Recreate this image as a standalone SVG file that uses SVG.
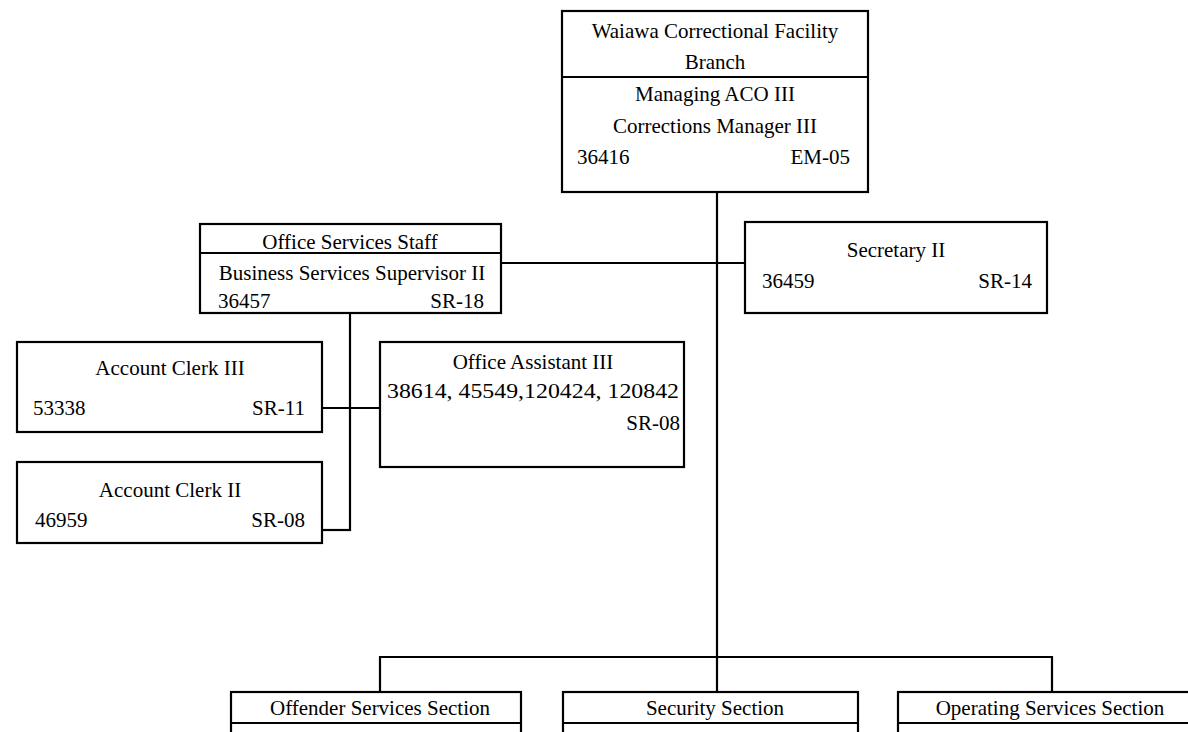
<svg xmlns="http://www.w3.org/2000/svg" width="1188" height="732" viewBox="0 0 1188 732">
<style>
.box{fill:#fff;stroke:#000;stroke-width:2.2}
.div{stroke:#000;stroke-width:2.2}
.ln{stroke:#000;stroke-width:2.2;fill:none}
text{font-family:"Liberation Serif","Times New Roman",serif;font-size:21px;fill:#000}
.c{text-anchor:middle}
.e{text-anchor:end}
</style>
<rect width="1188" height="732" fill="#fff"/>
<g id="connectors">
<line class="ln" x1="717" y1="192" x2="717" y2="692"/>
<line class="ln" x1="501" y1="263" x2="745" y2="263"/>
<line class="ln" x1="350" y1="313" x2="350" y2="531"/>
<line class="ln" x1="322" y1="408" x2="380" y2="408"/>
<line class="ln" x1="322" y1="530" x2="351" y2="530"/>
<polyline class="ln" points="380,692 380,657 1052,657 1052,692"/>
</g>
<g id="n_top">
<rect class="box" x="562" y="11" width="306" height="181"/>
<line class="div" x1="562" y1="77" x2="868" y2="77"/>
<text class="c" x="715" y="38">Waiawa Correctional Facility</text>
<text class="c" x="715" y="69">Branch</text>
<text class="c" x="715" y="101">Managing ACO III</text>
<text class="c" x="715" y="133">Corrections Manager III</text>
<text x="577" y="164">36416</text>
<text class="e" x="850" y="164">EM-05</text>
</g>
<g id="n_office">
<rect class="box" x="200" y="224" width="301" height="89"/>
<line class="div" x1="200" y1="253" x2="501" y2="253"/>
<text class="c" x="350" y="249">Office Services Staff</text>
<text class="c" x="352" y="280">Business Services Supervisor II</text>
<text x="218" y="308">36457</text>
<text class="e" x="484" y="308">SR-18</text>
</g>
<g id="n_secretary">
<rect class="box" x="745" y="222" width="302" height="91"/>
<text class="c" x="896" y="257">Secretary II</text>
<text x="762" y="288">36459</text>
<text class="e" x="1032" y="288">SR-14</text>
</g>
<g id="n_ac3">
<rect class="box" x="17" y="342" width="305" height="90"/>
<text class="c" x="170" y="375">Account Clerk III</text>
<text x="33" y="415">53338</text>
<text class="e" x="305" y="415">SR-11</text>
</g>
<g id="n_oa3">
<rect class="box" x="380" y="342" width="304" height="125"/>
<text class="c" x="533" y="369">Office Assistant III</text>
<text x="387" y="398" textLength="292" lengthAdjust="spacingAndGlyphs">38614, 45549,120424, 120842</text>
<text class="e" x="680" y="430">SR-08</text>
</g>
<g id="n_ac2">
<rect class="box" x="17" y="462" width="305" height="81"/>
<text class="c" x="170" y="497">Account Clerk II</text>
<text x="35" y="527">46959</text>
<text class="e" x="305" y="527">SR-08</text>
</g>
<g id="n_offender">
<rect class="box" x="231" y="692" width="290" height="60"/>
<line class="div" x1="231" y1="723" x2="521" y2="723"/>
<text class="c" x="380" y="715">Offender Services Section</text>
</g>
<g id="n_security">
<rect class="box" x="563" y="692" width="295" height="60"/>
<line class="div" x1="563" y1="723" x2="858" y2="723"/>
<text class="c" x="715" y="715">Security Section</text>
</g>
<g id="n_operating">
<rect class="box" x="898" y="692" width="300" height="60"/>
<line class="div" x1="898" y1="723" x2="1198" y2="723"/>
<text class="c" x="1050" y="715">Operating Services Section</text>
</g>
</svg>
